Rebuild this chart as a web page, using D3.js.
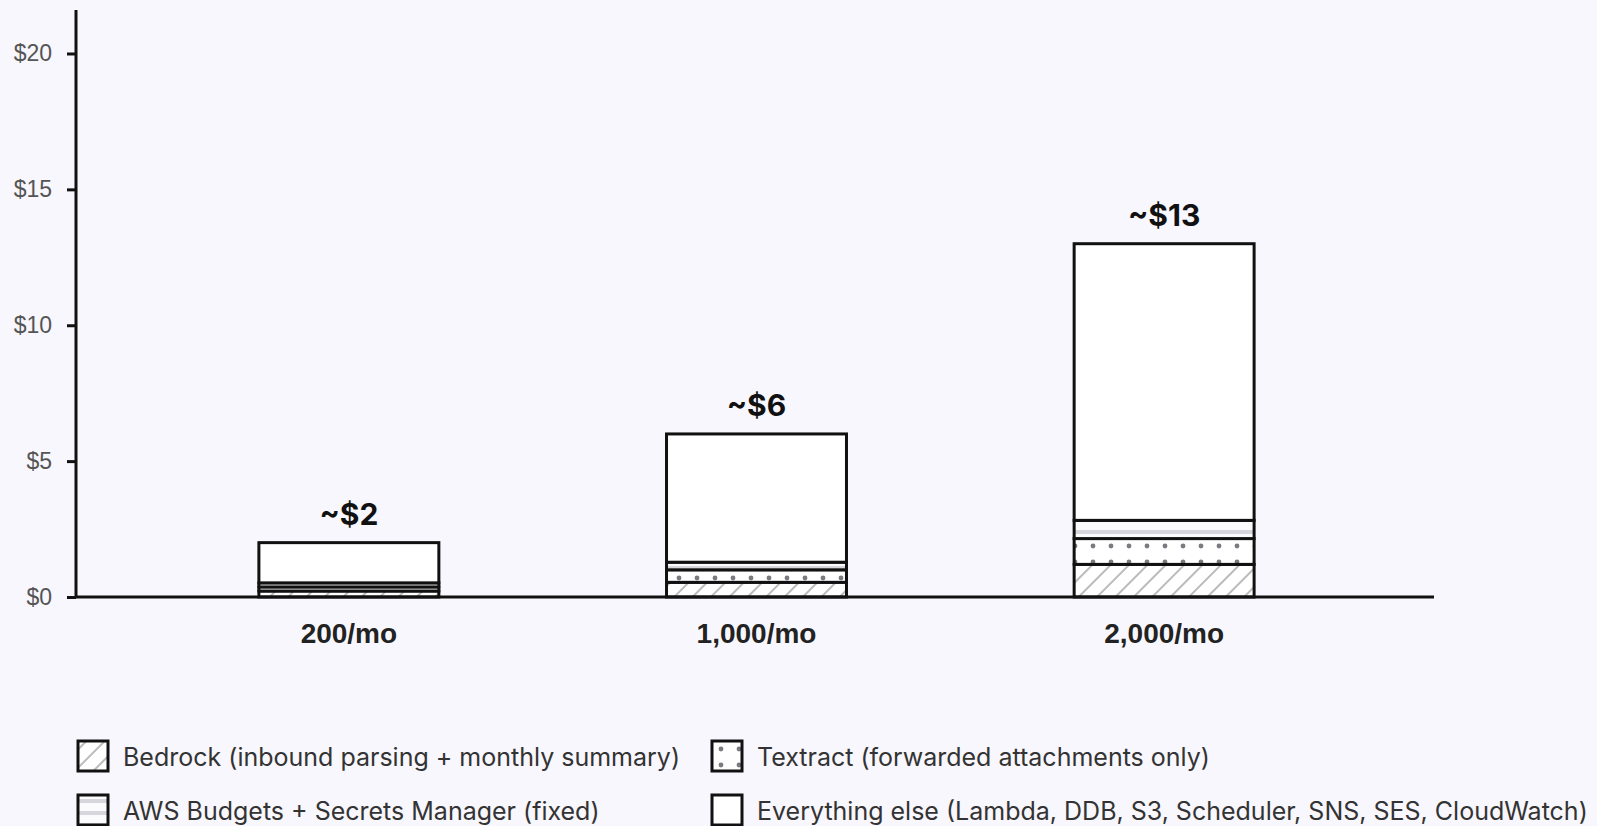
<!doctype html>
<html lang="en">
<head>
<meta charset="UTF-8">
<title>Monthly cost by volume</title>
<style>
  html, body { margin: 0; padding: 0; background: #f8f7fd; }
  svg { display: block; font-family: Inter, "Noto Sans", sans-serif; }
  .axis path, .axis line { stroke: #111; stroke-width: 3px; }
  .axis--y text { font-size: 23px; fill: #555; }
  .axis--x text { font-size: 28px; font-weight: 700; fill: #222; }
  .total { font-size: 30px; font-weight: 700; fill: #111; text-anchor: middle; }
  .legend text { font-size: 25px; fill: #333; }
</style>
</head>
<body>
<script src="https://cdn.jsdelivr.net/npm/d3@7"></script>
<script>
var categories = ["200/mo", "1,000/mo", "2,000/mo"];
var seriesNames = [
  "Bedrock (inbound parsing + monthly summary)",
  "Textract (forwarded attachments only)",
  "AWS Budgets + Secrets Manager (fixed)",
  "Everything else (Lambda, DDB, S3, Scheduler, SNS, SES, CloudWatch)"
];
var bedrock  = [0.22, 0.54, 1.2];
var textract = [0.15, 0.46, 0.95];
var budgets  = [0.15, 0.28, 0.67];
var other    = [1.48, 4.72, 10.18];
var totalLabels = ["~$2", "~$6", "~$13"];
var yTicks = [0, 5, 10, 15, 20];

var width = 1597, height = 826,
    margin = {top: 10, right: 163, bottom: 229, left: 76};

var keys = ["bedrock", "textract", "budgets", "other"];
var fills = {
  bedrock: "url(#hatch)",
  textract: "url(#dots)",
  budgets: "url(#stripes)",
  other: "#fff"
};

var rows = categories.map(function(c, i) {
  return {cat: c, bedrock: bedrock[i], textract: textract[i], budgets: budgets[i], other: other[i], label: totalLabels[i]};
});

var svg = d3.select("body").append("svg")
  .attr("width", width)
  .attr("height", height);

// patterns
var defs = svg.append("defs");
var hatch = defs.append("pattern")
  .attr("id", "hatch")
  .attr("patternUnits", "userSpaceOnUse")
  .attr("width", 13).attr("height", 13)
  .attr("patternTransform", "rotate(45)");
hatch.append("rect").attr("width", 13).attr("height", 13).attr("fill", "#fff");
hatch.append("line").attr("x1", 6).attr("y1", 0).attr("x2", 6).attr("y2", 13)
  .attr("stroke", "#aaa").attr("stroke-width", 1.6);

var dots = defs.append("pattern")
  .attr("id", "dots")
  .attr("patternUnits", "userSpaceOnUse")
  .attr("width", 18).attr("height", 16);
dots.append("rect").attr("width", 18).attr("height", 16).attr("fill", "#fff");
dots.append("circle").attr("cx", 9).attr("cy", 8).attr("r", 2.4).attr("fill", "#7a7a80");

var stripes = defs.append("pattern")
  .attr("id", "stripes")
  .attr("patternUnits", "userSpaceOnUse")
  .attr("width", 10).attr("height", 12);
stripes.append("rect").attr("width", 10).attr("height", 12).attr("fill", "#fbfbfd");
stripes.append("rect").attr("y", 4).attr("width", 10).attr("height", 4).attr("fill", "#d6d6dc");

var g = svg.append("g").attr("transform", "translate(" + margin.left + "," + margin.top + ")");
var w = width - margin.left - margin.right,
    h = height - margin.top - margin.bottom;

var x = d3.scaleBand()
  .domain(categories)
  .range([1.5, w + 1.5])
  .paddingInner(0.5585)
  .paddingOuter(0.445);

var y = d3.scaleLinear()
  .domain([0, 21.6])
  .range([h, 0]);

var stack = d3.stack().keys(keys);
var layers = stack(rows);

g.selectAll(".layer")
  .data(layers)
  .enter().append("g")
  .attr("class", "layer")
  .attr("fill", function(d) { return fills[d.key]; })
  .selectAll("rect")
  .data(function(d) { return d; })
  .enter().append("rect")
  .attr("x", function(d) { return x(d.data.cat); })
  .attr("y", function(d) { return y(d[1]); })
  .attr("width", x.bandwidth())
  .attr("height", function(d) { return y(d[0]) - y(d[1]); })
  .attr("stroke", "#111")
  .attr("stroke-width", 3);

g.selectAll(".total")
  .data(rows)
  .enter().append("text")
  .attr("class", "total")
  .attr("x", function(d) { return x(d.cat) + x.bandwidth() / 2; })
  .attr("y", function(d) { return y(d.bedrock + d.textract + d.budgets + d.other) - 18; })
  .text(function(d) { return d.label; });

// axes
var yAxis = g.append("g")
  .attr("class", "axis axis--y")
  .call(d3.axisLeft(y).tickValues(yTicks).tickSize(9).tickPadding(15)
    .tickFormat(function(d) { return "$" + d; }));
yAxis.select(".domain").attr("d", "M0," + h + "V0");

var xAxis = g.append("g")
  .attr("class", "axis axis--x")
  .attr("transform", "translate(0," + h + ")")
  .call(d3.axisBottom(x).tickSize(0).tickPadding(26));
xAxis.select(".domain").attr("d", "M0,0H" + w);

// legend
var legendItems = [
  {name: seriesNames[0], key: "bedrock", col: 0, row: 0},
  {name: seriesNames[1], key: "textract", col: 1, row: 0},
  {name: seriesNames[2], key: "budgets", col: 0, row: 1},
  {name: seriesNames[3], key: "other", col: 1, row: 1}
];

var legend = svg.append("g").attr("class", "legend");
var item = legend.selectAll("g")
  .data(legendItems)
  .enter().append("g")
  .attr("transform", function(d) {
    return "translate(" + (78 + d.col * 634) + "," + (741 + d.row * 54) + ")";
  });

item.append("rect")
  .attr("width", 30).attr("height", 30)
  .attr("fill", function(d) { return fills[d.key]; })
  .attr("stroke", "#111")
  .attr("stroke-width", 3);

item.append("text")
  .attr("x", 45)
  .attr("y", 16)
  .attr("dy", "0.35em")
  .text(function(d) { return d.name; });
</script>
</body>
</html>
